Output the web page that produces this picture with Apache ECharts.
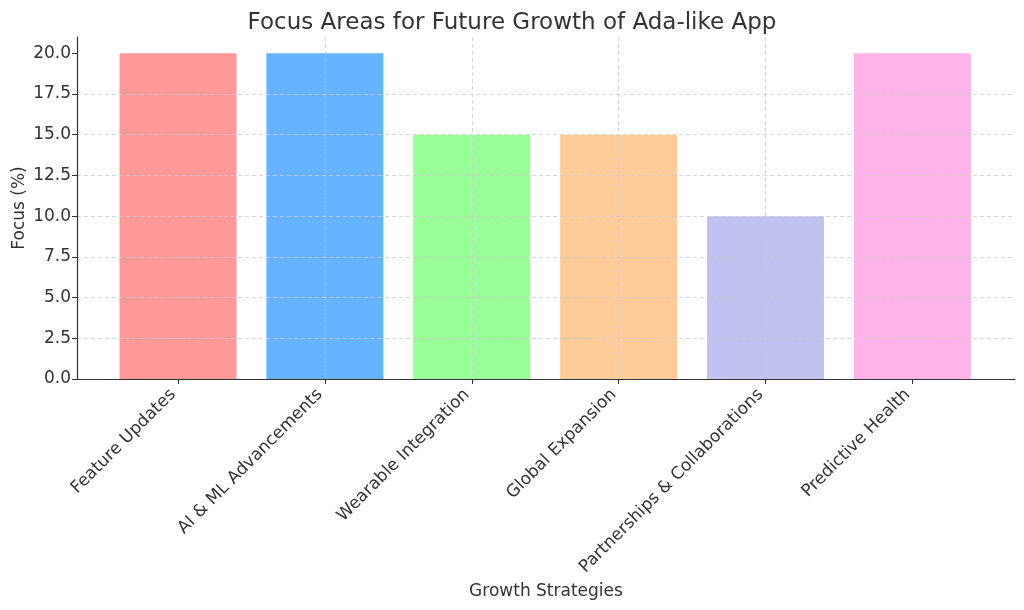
<!DOCTYPE html>
<html>
<head>
<meta charset="utf-8">
<script src="https://cdn.jsdelivr.net/npm/echarts@6/dist/echarts.min.js"></script>
<style>html,body{margin:0;padding:0;background:#fff}#c{width:1024px;height:610px}</style>
</head>
<body>
<div id="c"></div>
<script>
const categories = ['Feature Updates', 'AI & ML Advancements', 'Wearable Integration', 'Global Expansion', 'Partnerships & Collaborations', 'Predictive Health'];
const focusValues = [20, 20, 15, 15, 10, 20];
const barColors = ['#ff9999', '#66b3ff', '#99ff99', '#ffcc99', '#c2c2f0', '#ffb3e6'];
const yTicks = [0, 2.5, 5, 7.5, 10, 12.5, 15, 17.5, 20];

const positions = categories.map((_, i) => i);
const font = 'DejaVu Sans';
const textColor = '#333333';

const chart = echarts.init(document.getElementById('c'), null, {renderer: 'canvas'});
chart.setOption({
  animation: false,
  backgroundColor: '#ffffff',
  title: {
    text: 'Focus Areas for Future Growth of Ada-like App',
    left: 'center', top: 7,
    textStyle: {fontFamily: font, fontSize: 23, fontWeight: 'normal', color: textColor}
  },
  grid: {left: 77, right: 9, top: 37, bottom: 231, containLabel: false, outerBoundsMode: 'none'},
  xAxis: {
    type: 'value', min: -0.688, max: 5.699, z: 10,
    name: 'Growth Strategies', nameLocation: 'middle', nameGap: 202,
    nameTextStyle: {fontFamily: font, fontSize: 17, color: textColor},
    axisLine: {show: true, onZero: false, lineStyle: {color: '#333333', width: 1.2}},
    axisTick: {show: true, customValues: positions, length: 5, lineStyle: {color: '#333333'}},
    axisLabel: {
      customValues: positions, rotate: 45, margin: 8, padding: [0, 7, 0, 0],
      fontFamily: font, fontSize: 17, color: textColor,
      formatter: v => categories[Math.round(v)] || ''
    },
    splitLine: {show: true, showMinLine: false, showMaxLine: false, lineStyle: {color: '#cccccc', type: [4, 3], width: 0.8}}
  },
  yAxis: {
    type: 'value', min: 0, max: 21, z: 10,
    name: 'Focus (%)', nameLocation: 'middle', nameGap: 49, nameRotate: 90, nameMoveOverlap: false,
    nameTextStyle: {fontFamily: font, fontSize: 17, color: textColor},
    axisLine: {show: true, onZero: false, lineStyle: {color: '#333333', width: 1.2}},
    axisTick: {show: true, customValues: yTicks, length: 5, lineStyle: {color: '#333333'}},
    axisLabel: {
      customValues: yTicks, margin: 6,
      fontFamily: font, fontSize: 17, color: textColor,
      formatter: v => v.toFixed(1)
    },
    splitLine: {show: true, showMinLine: false, showMaxLine: false, lineStyle: {color: '#cccccc', type: [4, 3], width: 0.8}}
  },
  series: [{
    type: 'bar',
    barWidth: 117,
    z: 2,
    data: positions.map((p, i) => ({value: [p, focusValues[i]], itemStyle: {color: barColors[i]}}))
  }]
});
</script>
</body>
</html>
